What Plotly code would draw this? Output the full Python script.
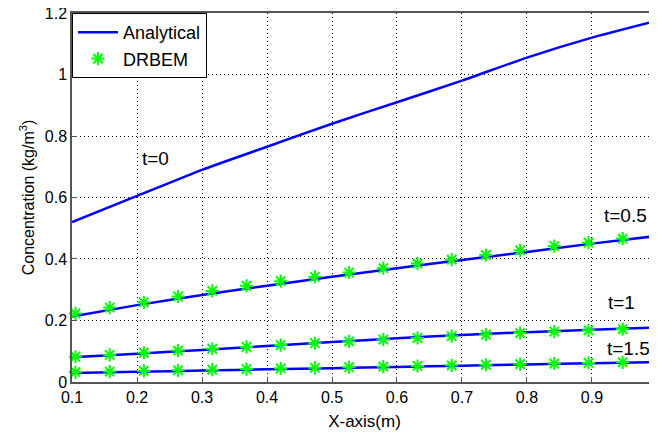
import plotly.graph_objects as go

# Analytical curves (x grid)
x_line = [0.1, 0.2, 0.3, 0.4, 0.5, 0.6, 0.7, 0.8, 0.9, 1.0]
ana_t0 = [0.52, 0.605, 0.69, 0.765, 0.84, 0.91, 0.98, 1.055, 1.12, 1.175]
ana_t05 = [0.213, 0.25, 0.283, 0.313, 0.342, 0.37, 0.397, 0.423, 0.45, 0.475]
ana_t1 = [0.080, 0.092, 0.104, 0.117, 0.130, 0.142, 0.153, 0.162, 0.170, 0.177]
ana_t15 = [0.029, 0.033, 0.037, 0.041, 0.045, 0.049, 0.053, 0.057, 0.061, 0.065]

# DRBEM nodes
x_nodes = [2/19, 3/19, 4/19, 5/19, 6/19, 7/19, 8/19, 9/19, 10/19, 11/19,
           12/19, 13/19, 14/19, 15/19, 16/19, 17/19, 18/19, 19/19]
drbem_t05 = [0.223, 0.242, 0.259, 0.278, 0.296, 0.313, 0.328, 0.342, 0.356, 0.370,
             0.385, 0.398, 0.413, 0.428, 0.442, 0.453, 0.466, 0.478]
drbem_t1 = [0.082, 0.088, 0.095, 0.102, 0.108, 0.114, 0.120, 0.126, 0.132, 0.138,
            0.143, 0.149, 0.154, 0.159, 0.164, 0.168, 0.172, 0.176]
drbem_t15 = [0.032, 0.034, 0.036, 0.038, 0.040, 0.042, 0.044, 0.046, 0.048, 0.050,
             0.052, 0.054, 0.056, 0.058, 0.060, 0.062, 0.064, 0.066]

labels = ["t=0", "t=0.5", "t=1", "t=1.5"]
label_x = [0.228, 0.951, 0.946, 0.956]
label_y = [0.728, 0.543, 0.258, 0.110]

x_ticks = [0.1, 0.2, 0.3, 0.4, 0.5, 0.6, 0.7, 0.8, 0.9, 1.0]
x_ticklabels = ["0.1", "0.2", "0.3", "0.4", "0.5", "0.6", "0.7", "0.8", "0.9", "1"]
y_ticks = [0, 0.2, 0.4, 0.6, 0.8, 1.0, 1.2]
y_ticklabels = ["0", "0.2", "0.4", "0.6", "0.8", "1", "1.2"]

FONT = "Liberation Sans, Arial, sans-serif"
BLUE = "#0000ff"
GREEN = "#00ff00"

fig = go.Figure()

for i, ys in enumerate([ana_t0, ana_t05, ana_t1, ana_t15]):
    fig.add_trace(go.Scatter(
        x=x_line, y=ys, mode="lines", name="Analytical",
        line=dict(color=BLUE, width=2.5, shape="spline", smoothing=0.6),
        legendgroup="ana", showlegend=(i == 0)))

for i, ys in enumerate([drbem_t05, drbem_t1, drbem_t15]):
    fig.add_trace(go.Scatter(
        x=x_nodes, y=ys, mode="markers", name="DRBEM",
        marker=dict(symbol="asterisk-open", size=11, color=GREEN,
                    line=dict(color=GREEN, width=2)),
        legendgroup="drbem", showlegend=(i == 0), cliponaxis=False))

for t, lx, ly in zip(labels, label_x, label_y):
    fig.add_annotation(x=lx, y=ly, text=t, showarrow=False,
                       font=dict(family=FONT, size=19, color="black"))

axis_common = dict(
    showgrid=True, gridcolor="#000000", griddash="1px,3px", gridwidth=1,
    showline=True, linecolor="#555555", linewidth=1.5, mirror=True,
    ticks="inside", ticklen=5, tickcolor="#555555",
    tickfont=dict(family=FONT, size=16, color="black"),
    zeroline=False, automargin=False, ticklabeloverflow="allow",
)

fig.update_xaxes(range=[0.0999, 1.0001], tickvals=x_ticks, ticktext=x_ticklabels,
                 title=dict(text="X-axis(m)", font=dict(family=FONT, size=17, color="black"),
                            standoff=10),
                 **axis_common)
fig.update_yaxes(range=[-0.0001, 1.2001], tickvals=y_ticks, ticktext=y_ticklabels,
                 title=dict(text="Concentration (kg/m<sup>3</sup>)",
                            font=dict(family=FONT, size=16, color="black"), standoff=6),
                 **axis_common)

fig.update_layout(
    width=649, height=428,
    margin=dict(l=64, r=0, t=5, b=54),
    plot_bgcolor="white", paper_bgcolor="white",
    font=dict(family=FONT, color="black"),
    legend=dict(x=0, y=1, xanchor="left", yanchor="top",
                bgcolor="white", bordercolor="black", borderwidth=1,
                font=dict(family=FONT, size=18, color="black"),
                tracegroupgap=0, itemwidth=40),
)

fig.write_html("out.html")
